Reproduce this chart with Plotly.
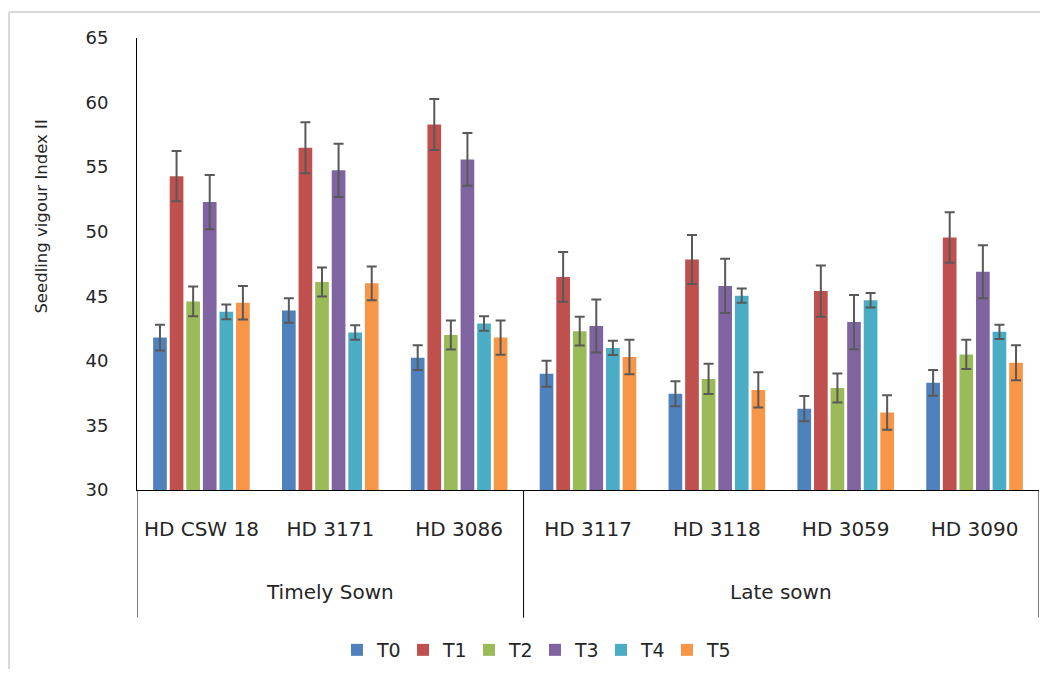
import plotly.graph_objects as go

# ---- data ----
timely = ["HD CSW 18", "HD 3171", "HD 3086"]
late = ["HD 3117", "HD 3118", "HD 3059", "HD 3090"]
groups = ["Timely Sown", "Late sown"]
varieties = timely + late

series_names = ["T0", "T1", "T2", "T3", "T4", "T5"]
T0 = [41.8, 43.9, 40.25, 39.0, 37.45, 36.3, 38.3]
T1 = [54.3, 56.5, 58.3, 46.5, 47.85, 45.4, 49.55]
T2 = [44.6, 46.1, 42.0, 42.3, 38.6, 37.9, 40.5]
T3 = [52.3, 54.75, 55.6, 42.7, 45.8, 43.0, 46.9]
T4 = [43.8, 42.2, 42.9, 41.0, 45.05, 44.7, 42.25]
T5 = [44.5, 46.0, 41.8, 40.3, 37.75, 36.0, 39.85]

E0 = [1.0, 0.95, 0.95, 1.0, 0.97, 0.98, 1.0]
E1 = [1.95, 1.97, 1.97, 1.92, 1.9, 1.98, 1.95]
E2 = [1.15, 1.12, 1.13, 1.12, 1.17, 1.12, 1.13]
E3 = [2.1, 2.06, 2.05, 2.05, 2.1, 2.1, 2.05]
E4 = [0.57, 0.56, 0.56, 0.55, 0.56, 0.56, 0.55]
E5 = [1.3, 1.3, 1.33, 1.34, 1.36, 1.34, 1.35]

values = [T0, T1, T2, T3, T4, T5]
errors = [E0, E1, E2, E3, E4, E5]
colors = ["#4F81BD", "#C0504D", "#9BBB59", "#8064A2", "#4BACC6", "#F79646"]

y_title = "Seedling vigour Index II"
y_range = [30, 65]

# ---- layout constants (screen pixels; page body has an 8px margin) ----
OFF = 8
W, H = 1048 - 2 * OFF, 677 - 2 * OFF
PL, PR, PT, PB = 137, 1039, 38, 491          # plot area in screen px
ML, MR, MT = PL - OFF, (W + OFF) - PR, PT - OFF
MB = (H + OFF) - PB
PW = W - ML - MR
PH = H - MT - MB
FONT = "DejaVu Sans"
TXT = "#262626"

def sx(px):
    return (px - PL) / PW

def sy(py):
    return (PB - py) / PH

fig = go.Figure()
for name, vals, errs, col in zip(series_names, values, errors, colors):
    fig.add_trace(go.Bar(
        name=name, x=varieties, y=vals,
        marker=dict(color=col, line=dict(width=0)),
        error_y=dict(type="data", array=errs, visible=True,
                     color="#595959", thickness=2, width=5),
    ))

# group dividers and labels (derived from group sizes)
n_t, n_l = len(timely), len(late)
bounds = [-0.5, n_t - 0.5, n_t + n_l - 0.5]
div_bottom = sy(619)
shapes = []
for b in bounds:
    shapes.append(dict(type="line", xref="x", yref="paper", x0=b, x1=b,
                       y0=0, y1=div_bottom, line=dict(color="#000000", width=1)))
# outer chart border (top and left, light gray)
shapes.append(dict(type="line", xref="paper", yref="paper",
                   x0=sx(OFF + 1), x1=sx(W + OFF + 5),
                   y0=sy(12), y1=sy(12),
                   line=dict(color="#D9D9D9", width=2)))
shapes.append(dict(type="line", xref="paper", yref="paper",
                   x0=sx(OFF + 1), x1=sx(OFF + 1),
                   y0=sy(12), y1=sy(H + OFF + 5),
                   line=dict(color="#D9D9D9", width=2)))

annotations = [
    dict(text=groups[0], xref="x", yref="paper", x=(n_t - 1) / 2,
         y=sy(593), showarrow=False, yanchor="middle",
         font=dict(family=FONT, size=20, color=TXT)),
    dict(text=groups[1], xref="x", yref="paper", x=n_t + (n_l - 1) / 2,
         y=sy(593), showarrow=False, yanchor="middle",
         font=dict(family=FONT, size=20, color=TXT)),
    dict(text=y_title, xref="paper", yref="paper", x=sx(42),
         y=sy(217), textangle=-90, showarrow=False,
         xanchor="center", yanchor="middle",
         font=dict(family=FONT, size=16.5, color=TXT)),
]

fig.update_layout(
    width=W, height=H, autosize=False,
    margin=dict(l=ML, r=MR, t=MT, b=MB, pad=0),
    paper_bgcolor="white", plot_bgcolor="white",
    barmode="group", bargap=0.228, bargroupgap=0.175,
    font=dict(family=FONT, color=TXT),
    showlegend=True,
    legend=dict(orientation="h", x=sx(535), xanchor="center",
                y=sy(651), yanchor="middle",
                font=dict(family=FONT, size=19, color=TXT),
                entrywidth=21, entrywidthmode="pixels",
                bgcolor="rgba(0,0,0,0)"),
    shapes=shapes,
    annotations=annotations,
    xaxis=dict(type="category", range=[-0.5, len(varieties) - 0.5],
               showline=True, linecolor="#000000", linewidth=1,
               ticks="", showgrid=False, zeroline=False,
               tickfont=dict(family=FONT, size=20, color=TXT),
               ticklabelstandoff=21),
    yaxis=dict(range=y_range, dtick=5, tick0=30,
               showline=True, linecolor="#000000", linewidth=1,
               ticks="", showgrid=False, zeroline=False,
               tickfont=dict(family=FONT, size=18, color=TXT),
               ticklabelstandoff=24),
)

fig.write_html("out.html")
